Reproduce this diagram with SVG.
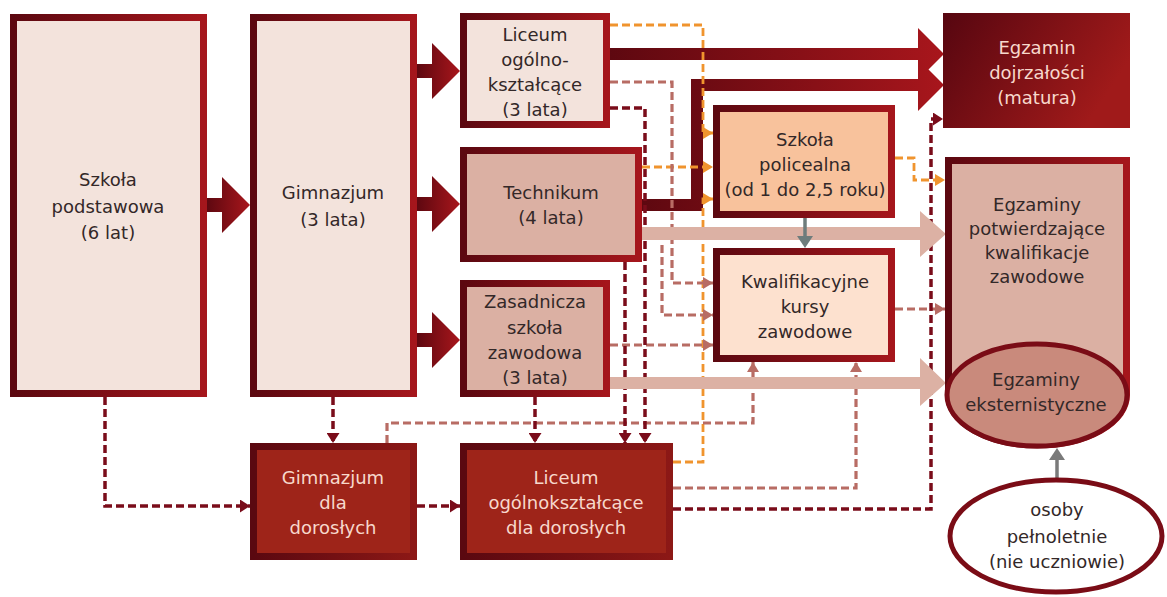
<svg xmlns="http://www.w3.org/2000/svg" width="1167" height="597" viewBox="0 0 1167 597">
<defs>
<linearGradient id="bd" x1="0" y1="0" x2="1" y2="0"><stop offset="0" stop-color="#5c0810"/><stop offset="1" stop-color="#a5161c"/></linearGradient>
<linearGradient id="bdd" x1="0" y1="0" x2="1" y2="0"><stop offset="0" stop-color="#5a0810"/><stop offset="1" stop-color="#8c1816"/></linearGradient>
<linearGradient id="mat" x1="0" y1="0" x2="1" y2="0.4"><stop offset="0" stop-color="#560610"/><stop offset="1" stop-color="#a01a1a"/></linearGradient>
<linearGradient id="arr" x1="0" y1="0" x2="1" y2="0"><stop offset="0" stop-color="#5e0810"/><stop offset="1" stop-color="#a8161c"/></linearGradient>
<marker id="mo" viewBox="0 0 10 12" refX="10" refY="6" markerWidth="10" markerHeight="12" markerUnits="userSpaceOnUse" orient="auto"><path d="M0,0 L10,6 L0,12 Z" fill="#f0942e"/></marker>
<marker id="mp" viewBox="0 0 10 12" refX="10" refY="6" markerWidth="10" markerHeight="12" markerUnits="userSpaceOnUse" orient="auto"><path d="M0,0 L10,6 L0,12 Z" fill="#b86c64"/></marker>
<marker id="md" viewBox="0 0 10 13" refX="10" refY="6.5" markerWidth="10" markerHeight="13" markerUnits="userSpaceOnUse" orient="auto"><path d="M0,0 L10,6.5 L0,13 Z" fill="#7a0c1a"/></marker>
<style>
.bx{stroke:url(#bd);stroke-width:7}
.l1{fill:#f3e3dc}
.l2{fill:#dbb0a3}
.t{font-family:"DejaVu Sans","Liberation Sans",sans-serif;font-size:18px;fill:#332828;text-anchor:middle}
.tw{fill:#f7d8cc}
.dash{fill:none;stroke-width:3.2;stroke-dasharray:8 4}
.o{stroke:#f0942e;stroke-width:2.8;marker-end:url(#mo)}
.p{stroke:#b86c64;marker-end:url(#mp)}
.d{stroke:#7a0c1a;stroke-width:3.5;marker-end:url(#md)}
.big{fill:url(#arr)}
.pk{fill:#dcb1a4}
</style>
</defs>

<g id="connectors">
<path class="big" d="M207,198 H222 V177 L250,205 L222,233 V212 H207 Z"/>
<path class="big" d="M417,64 H432 V43 L460,71 L432,99 V78 H417 Z"/>
<path class="big" d="M417,197 H432 V176 L460,204 L432,232 V211 H417 Z"/>
<path class="big" d="M417,333 H432 V312 L460,340 L432,368 V347 H417 Z"/>
<path class="big" d="M610,48 H918 V28 L944,54 L918,80 V60 H610 Z"/>
<path class="big" d="M642,199 H691 V79 H918 V59 L944,85 L918,111 V91 H703 V211 H642 Z"/>

<path class="dash o" d="M610,25 H703 V133 H713"/>
<path class="dash o" d="M642,167 H713"/>
<path class="dash o" d="M673,462 H703 V199 H713"/>
<path class="dash o" d="M895,158 H914 V180 H945"/>

<path class="dash p" d="M610,82 H672 V283 H713"/>
<path class="dash p" d="M662,245 V315 H713"/>
<path class="dash p" d="M610,345 H713"/>
<path class="dash p" d="M895,309 H945"/>
<path class="dash p" d="M387,443 V423 H753 V362"/>
<path class="dash p" d="M673,488 H856 V362"/>

<path class="dash d" d="M610,108 H645 V443"/>
<path class="dash d" d="M625,262 V443"/>
<path class="dash d" d="M535,397 V443"/>
<path class="dash d" d="M333,397 V443"/>
<path class="dash d" d="M105,397 V506 H250"/>
<path class="dash d" d="M417,506 H460"/>
<path class="dash d" d="M673,509 H931 V119 H943"/>

<path class="pk" d="M642,227 H920 V211 L946,234 L920,257 V240 H642 Z"/>
<path class="pk" d="M610,377 H920 V358 L946,383 L920,406 V389 H610 Z"/>

<path d="M805,218 V237" stroke="#6e7c7c" stroke-width="3.5"/>
<path d="M797,236 H813 L805,248 Z" fill="#6e7c7c"/>
<path d="M1057,479 V459" stroke="#7a7a7a" stroke-width="3.5"/>
<path d="M1049,460 H1065 L1057,448 Z" fill="#7a7a7a"/>
</g>

<g id="szkola-podstawowa">
<rect class="bx l1" x="13.5" y="17.5" width="190" height="376"/>
<text class="t" x="108" y="186">Szkoła</text>
<text class="t" x="108" y="213">podstawowa</text>
<text class="t" x="108" y="239">(6 lat)</text>
</g>

<g id="gimnazjum">
<rect class="bx l1" x="253.5" y="17.5" width="160" height="376"/>
<text class="t" x="333" y="199">Gimnazjum</text>
<text class="t" x="333" y="226">(3 lata)</text>
</g>

<g id="liceum">
<rect class="bx l1" x="463.5" y="16.5" width="143" height="108"/>
<text class="t" x="535" y="41">Liceum</text>
<text class="t" x="535" y="66">ogólno-</text>
<text class="t" x="535" y="91">kształcące</text>
<text class="t" x="535" y="116">(3 lata)</text>
</g>

<g id="technikum">
<rect class="bx l2" x="463.5" y="150.5" width="175" height="108"/>
<text class="t" x="551" y="199">Technikum</text>
<text class="t" x="551" y="224">(4 lata)</text>
</g>

<g id="zasadnicza">
<rect class="bx l2" x="463.5" y="283.5" width="143" height="110"/>
<text class="t" x="535" y="308">Zasadnicza</text>
<text class="t" x="535" y="334">szkoła</text>
<text class="t" x="535" y="359">zawodowa</text>
<text class="t" x="535" y="384">(3 lata)</text>
</g>

<g id="policealna">
<rect class="bx" x="716.5" y="108.5" width="175" height="106" fill="#f8c29c"/>
<text class="t" x="805" y="146">Szkoła</text>
<text class="t" x="805" y="171">policealna</text>
<text class="t" x="805" y="196">(od 1 do 2,5 roku)</text>
</g>

<g id="kursy">
<rect class="bx" x="716.5" y="251.5" width="175" height="107" fill="#fde1cf"/>
<text class="t" x="805" y="288">Kwalifikacyjne</text>
<text class="t" x="805" y="313">kursy</text>
<text class="t" x="805" y="338">zawodowe</text>
</g>

<g id="matura">
<rect x="943" y="13" width="187" height="115" fill="url(#mat)"/>
<text class="t tw" x="1037" y="54">Egzamin</text>
<text class="t tw" x="1037" y="79">dojrzałości</text>
<text class="t tw" x="1037" y="104">(matura)</text>
</g>

<g id="egzaminy-zawodowe">
<path d="M948.5,160.5 H1126.5 V395 A89,50 0 0 1 948.5,395 Z" fill="#dbb0a3" stroke="url(#bd)" stroke-width="7"/>
<text class="t" x="1037" y="211">Egzaminy</text>
<text class="t" x="1037" y="235">potwierdzające</text>
<text class="t" x="1037" y="259">kwalifikacje</text>
<text class="t" x="1037" y="283">zawodowe</text>
</g>

<g id="eksternistyczne">
<ellipse cx="1037" cy="395" rx="90" ry="51" fill="#c98a7c" stroke="#7a0c16" stroke-width="5"/>
<text class="t" x="1036" y="386">Egzaminy</text>
<text class="t" x="1036" y="411">eksternistyczne</text>
</g>

<g id="osoby">
<ellipse cx="1056" cy="536" rx="106" ry="56" fill="#ffffff" stroke="#7a0c16" stroke-width="5"/>
<text class="t" x="1057" y="516">osoby</text>
<text class="t" x="1057" y="543">pełnoletnie</text>
<text class="t" x="1057" y="568">(nie uczniowie)</text>
</g>

<g id="gimnazjum-dorosli">
<rect x="253.5" y="446.5" width="160" height="110" fill="#9e2419" stroke="url(#bdd)" stroke-width="7"/>
<text class="t tw" x="333" y="484">Gimnazjum</text>
<text class="t tw" x="333" y="509">dla</text>
<text class="t tw" x="333" y="534">dorosłych</text>
</g>

<g id="liceum-dorosli">
<rect x="463.5" y="446.5" width="206" height="110" fill="#9e2419" stroke="url(#bdd)" stroke-width="7"/>
<text class="t tw" x="566" y="484">Liceum</text>
<text class="t tw" x="566" y="509">ogólnokształcące</text>
<text class="t tw" x="566" y="534">dla dorosłych</text>
</g>
</svg>
